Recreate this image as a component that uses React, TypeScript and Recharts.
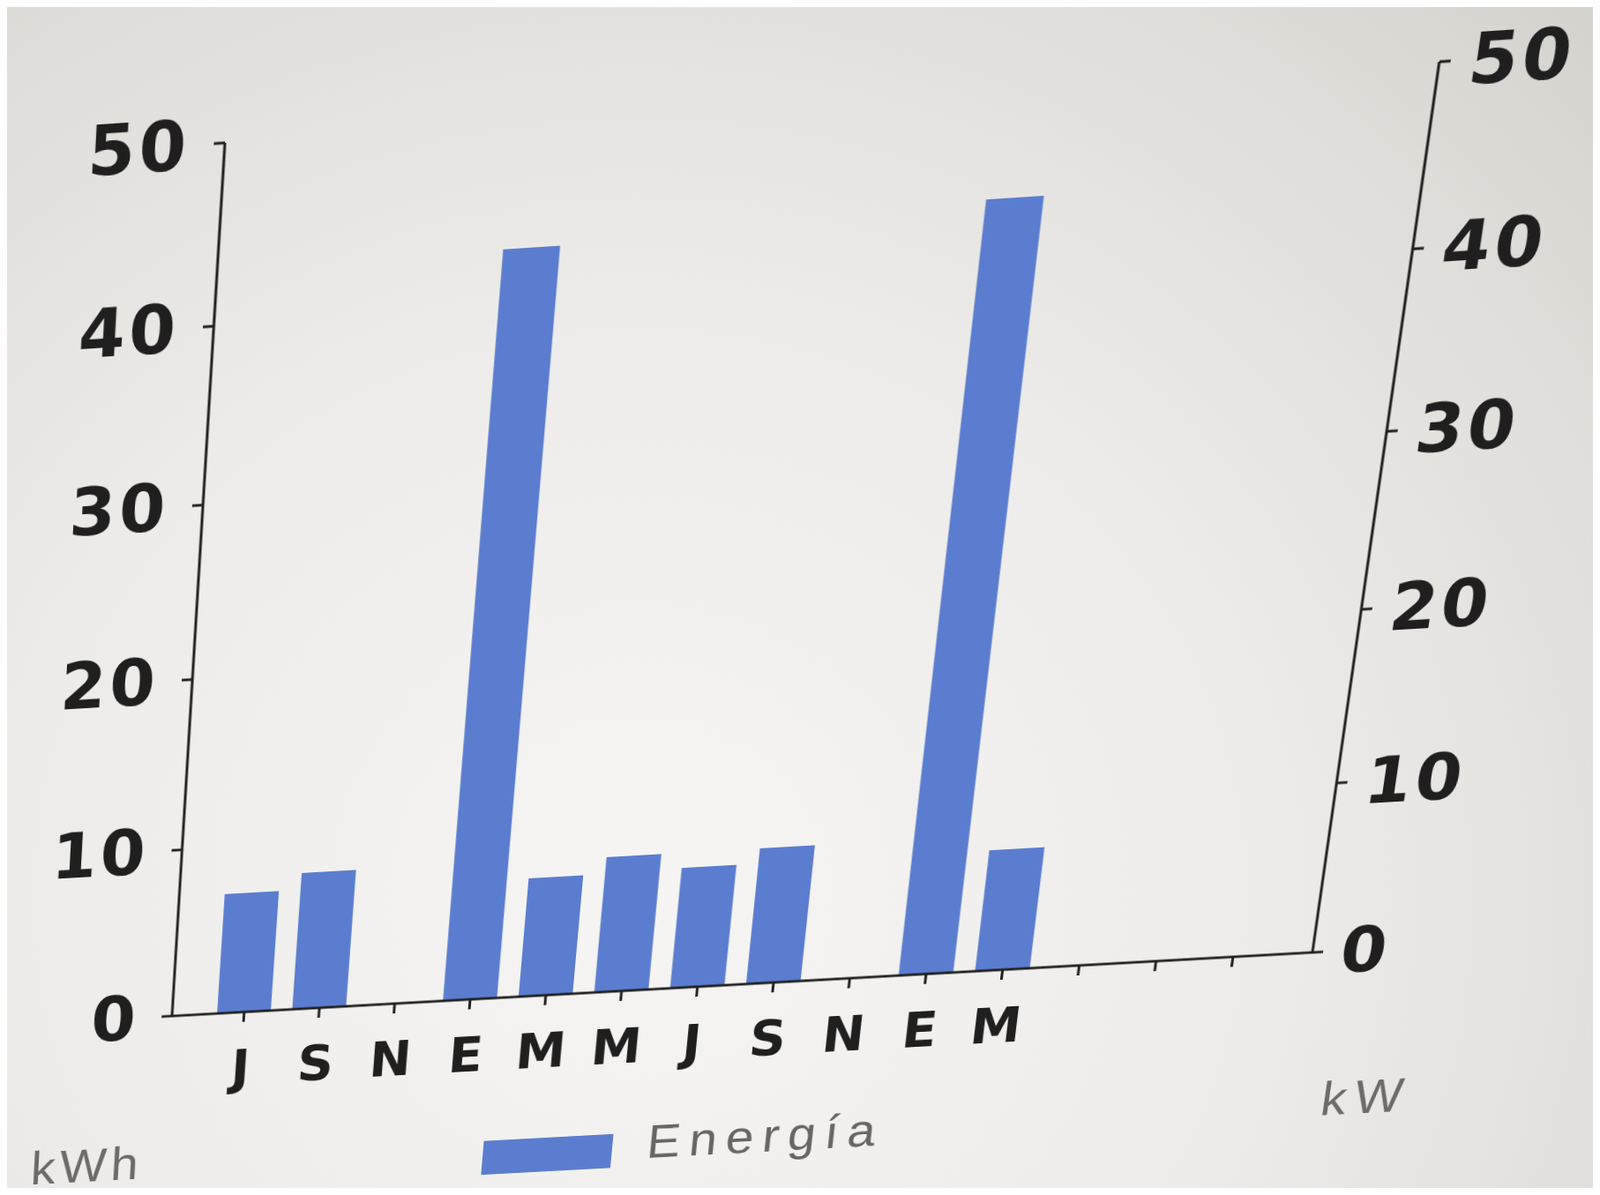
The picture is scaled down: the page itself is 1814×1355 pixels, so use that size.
import { ComposedChart, Bar, Line, XAxis, YAxis } from "recharts";

// bimonthly labels, last three slots are empty on the original sheet
const months = ["J", "S", "N", "E", "M", "M", "J", "S", "N", "E", "M", "", "", ""];
const energia = [7.2, 8.2, null, 43.2, 7.1, 8.1, 7.2, 8.1, null, 44.2, 7.2, null, null, null];
const kwhTicks = [0, 10, 20, 30, 40, 50];
const kwTicks = [0, 10, 20, 30, 40, 50];

const data = months.map((mes, i) => ({ mes, energia: energia[i] }));

const BAR = "#5a7dcf";
const INK = "#1f1f1f";

// plot rectangle inside the flat chart, and where its corners land in the photo
const PLOT = [200, 100, 1300, 1000];
const QUAD = [
  [255, 162],
  [1632, 70],
  [1488, 1080],
  [195, 1152],
];

function toQuad(src: number[], dst: number[][]) {
  const [sx, sy, sw, sh] = src;
  const [[x0, y0], [x1, y1], [x2, y2], [x3, y3]] = dst;
  const dx1 = x1 - x2, dx2 = x3 - x2, dx3 = x0 - x1 + x2 - x3;
  const dy1 = y1 - y2, dy2 = y3 - y2, dy3 = y0 - y1 + y2 - y3;
  const den = dx1 * dy2 - dx2 * dy1;
  const g = (dx3 * dy2 - dx2 * dy3) / den;
  const h = (dx1 * dy3 - dx3 * dy1) / den;
  const a = x1 - x0 + g * x1, b = x3 - x0 + h * x3, c = x0;
  const d = y1 - y0 + g * y1, e = y3 - y0 + h * y3, f = y0;
  const m00 = a / sw, m01 = b / sh, m02 = c - (a * sx) / sw - (b * sy) / sh;
  const m10 = d / sw, m11 = e / sh, m12 = f - (d * sx) / sw - (e * sy) / sh;
  const m20 = g / sw, m21 = h / sh, m22 = 1 - (g * sx) / sw - (h * sy) / sh;
  return `matrix3d(${m00},${m10},0,${m20},${m01},${m11},0,${m21},0,0,1,0,${m02},${m12},0,${m22})`;
}

const tickFont = { fill: INK, fontSize: 74, fontWeight: 700, fontFamily: "DejaVu Sans", letterSpacing: 4 };
const catFont = { fill: INK, fontSize: 58, fontWeight: 700, fontFamily: "DejaVu Sans" };
const unitStyle = {
  position: "absolute" as const,
  fontFamily: "Liberation Sans, Arial, sans-serif",
  fontSize: 58,
  lineHeight: 1,
  color: "#6b6b6b",
  letterSpacing: 5,
};

export default function App() {
  return (
    <div
      style={{
        position: "relative",
        width: 1814,
        height: 1355,
        margin: -8,
        overflow: "hidden",
        background:
          "radial-gradient(ellipse at 40% 75%, #f6f5f3 0%, #eeecea 45%, #e0deda 78%, #d4d2cd 100%)",
      }}
    >
      <div
        style={{
          position: "absolute",
          left: 0,
          top: 0,
          width: 1700,
          height: 1350,
          transformOrigin: "0 0",
          transform: toQuad(PLOT, QUAD),
        }}
      >
        <ComposedChart
          width={1700}
          height={1350}
          data={data}
          margin={{ top: 100, right: 50, left: 0, bottom: 130 }}
          barCategoryGap="14%"
        >
          <XAxis
            dataKey="mes"
            height={120}
            interval={0}
            padding={{ left: 40, right: 46 }}
            axisLine={{ stroke: INK, strokeWidth: 3 }}
            tickLine={{ stroke: INK, strokeWidth: 3 }}
            tickSize={12}
            tickMargin={35}
            tick={catFont}
          />
          <YAxis
            yAxisId="kwh"
            orientation="left"
            width={200}
            domain={[0, 50]}
            ticks={kwhTicks}
            interval={0}
            axisLine={{ stroke: INK, strokeWidth: 3 }}
            tickLine={{ stroke: INK, strokeWidth: 3 }}
            tickSize={12}
            tickMargin={26}
            tick={tickFont}
          />
          <YAxis
            yAxisId="kw"
            orientation="right"
            width={150}
            domain={[0, 50]}
            ticks={kwTicks}
            interval={0}
            axisLine={{ stroke: INK, strokeWidth: 3 }}
            tickLine={{ stroke: INK, strokeWidth: 3 }}
            tickSize={12}
            tickMargin={20}
            tick={tickFont}
          />
          <Bar yAxisId="kwh" dataKey="energia" name="Energía" fill={BAR} isAnimationActive={false} />
          {/* the kW scale has no series of its own; an invisible line keeps the axis alive */}
          <Line
            yAxisId="kw"
            dataKey="energia"
            stroke="none"
            dot={false}
            activeDot={false}
            legendType="none"
            isAnimationActive={false}
          />
        </ComposedChart>

        <div style={{ ...unitStyle, left: 45, top: 1250 }}>kWh</div>
        <div style={{ ...unitStyle, left: 1534, top: 1250, letterSpacing: 9 }}>kW</div>

        <div style={{ position: "absolute", left: 573, top: 1275, width: 150, height: 42, background: BAR }} />
        <div
          style={{
            ...unitStyle,
            left: 763,
            top: 1258,
            fontSize: 58,
            letterSpacing: 10,
            color: "#666",
          }}
        >
          Energía
        </div>
      </div>
    </div>
  );
}
